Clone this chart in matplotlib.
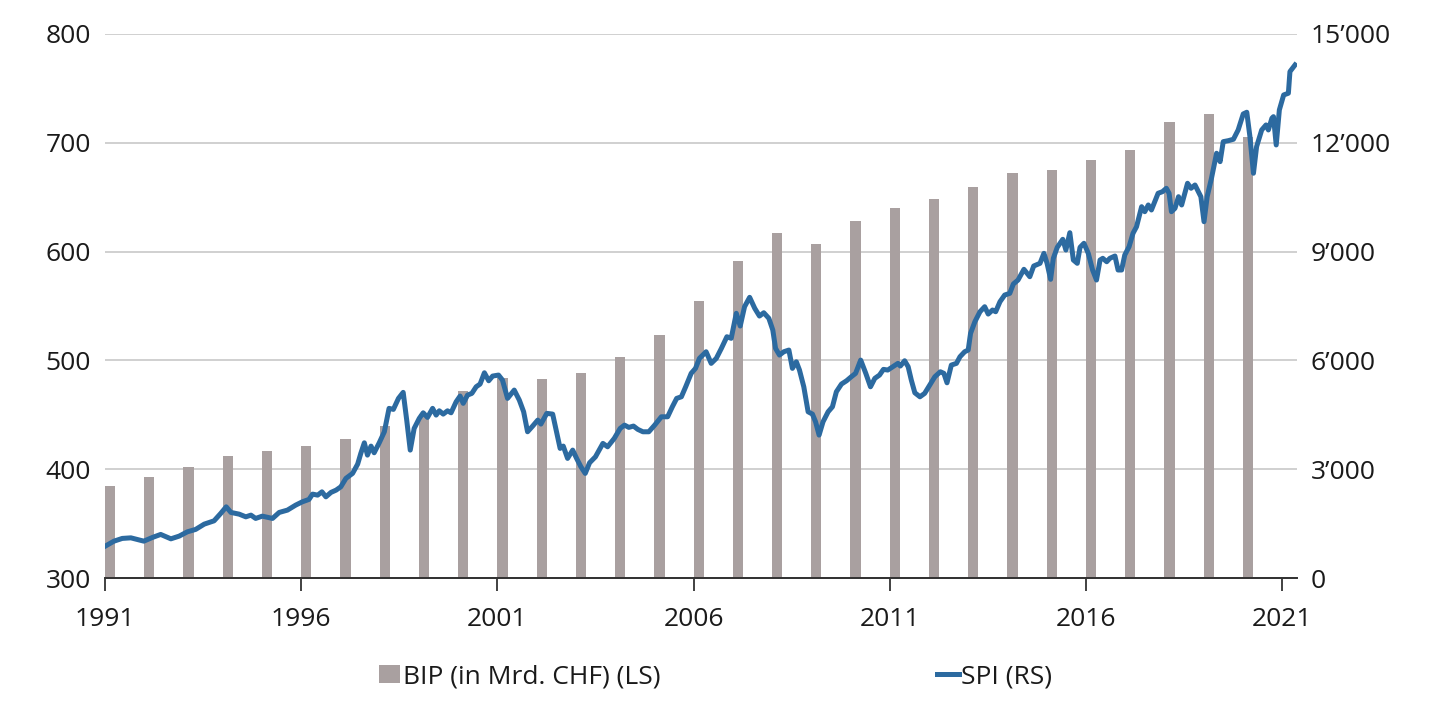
import matplotlib.pyplot as plt
from matplotlib.ticker import FuncFormatter

plt.rcParams['font.family'] = ['Open Sans', 'DejaVu Sans']

# BIP yearly (left axis, Mrd. CHF)
bip_years = list(range(1991, 2021))
bip = [385, 393, 402, 412, 417, 421, 428, 440, 451, 472,
       484, 483, 488, 503, 523, 555, 591, 617, 607, 628,
       640, 648, 659, 672, 675, 684, 693, 719, 726, 705]

# SPI (right axis)
spi_t = [1991.02, 1991.23, 1991.44, 1991.66, 1991.82, 1991.99, 1992.21, 1992.42, 1992.68, 1992.89,
         1993.10, 1993.31, 1993.53, 1993.78, 1993.95, 1994.09, 1994.21, 1994.42, 1994.59, 1994.72,
         1994.84, 1995.01, 1995.27, 1995.44, 1995.65, 1995.86, 1996.03, 1996.20,
         1996.29, 1996.42, 1996.53, 1996.63, 1996.76, 1996.89, 1997.01, 1997.14, 1997.31, 1997.44,
         1997.52, 1997.61, 1997.69, 1997.78, 1997.86, 1997.99, 1998.12, 1998.24, 1998.35, 1998.48,
         1998.60, 1998.69, 1998.78, 1998.88, 1999.01, 1999.11, 1999.22, 1999.35, 1999.44, 1999.52,
         1999.62, 1999.73, 1999.82, 1999.95, 2000.05, 2000.13, 2000.24, 2000.35, 2000.46, 2000.56,
         2000.67, 2000.78, 2000.88, 2001.03,
         2001.13, 2001.26, 2001.43, 2001.56, 2001.67, 2001.77, 2001.90, 2002.03, 2002.11, 2002.26,
         2002.41, 2002.50, 2002.60, 2002.68, 2002.79, 2002.92, 2003.02, 2003.13, 2003.24, 2003.35,
         2003.50, 2003.69, 2003.81, 2003.98, 2004.13, 2004.24, 2004.35, 2004.47, 2004.58, 2004.71,
         2004.86, 2005.01, 2005.18, 2005.34, 2005.46, 2005.57, 2005.69, 2005.80, 2005.94, 2006.05,
         2006.15,
         2006.32, 2006.45, 2006.58, 2006.71, 2006.85, 2006.96, 2007.09, 2007.19, 2007.30, 2007.43,
         2007.56, 2007.68, 2007.79, 2007.92, 2008.02, 2008.09, 2008.19, 2008.30, 2008.43, 2008.52,
         2008.62, 2008.70, 2008.81, 2008.92, 2009.03, 2009.11, 2009.20, 2009.30, 2009.43, 2009.54,
         2009.64, 2009.77, 2009.90, 2010.02, 2010.13, 2010.26, 2010.39, 2010.51, 2010.62, 2010.74,
         2010.84, 2010.95, 2011.08, 2011.21,
         2011.27, 2011.38, 2011.47, 2011.55, 2011.64, 2011.77, 2011.89, 2012.02, 2012.15, 2012.29,
         2012.38, 2012.46, 2012.57, 2012.70, 2012.79, 2012.91, 2013.00, 2013.06, 2013.17, 2013.30,
         2013.42, 2013.51, 2013.62, 2013.70, 2013.81, 2013.93, 2014.06, 2014.15, 2014.27, 2014.42,
         2014.57, 2014.67, 2014.83, 2014.93, 2015.01, 2015.10, 2015.17, 2015.27, 2015.41, 2015.49,
         2015.59, 2015.68, 2015.78, 2015.85, 2015.95, 2016.06, 2016.17, 2016.27, 2016.36,
         2016.43, 2016.53, 2016.61, 2016.74, 2016.82, 2016.91, 2016.99, 2017.10, 2017.20, 2017.29,
         2017.42, 2017.50, 2017.59, 2017.67, 2017.84, 2017.95, 2018.05, 2018.12, 2018.18, 2018.27,
         2018.36, 2018.44, 2018.59, 2018.68, 2018.78, 2018.93, 2019.01, 2019.09, 2019.20, 2019.33,
         2019.42, 2019.50, 2019.63, 2019.76, 2019.88, 2020.01, 2020.10, 2020.18, 2020.27, 2020.35,
         2020.48, 2020.59, 2020.65, 2020.74, 2020.78, 2020.85, 2020.93, 2021.04, 2021.16, 2021.20,
         2021.33]
spi = [890, 1020, 1095, 1111, 1067, 1020, 1122, 1205, 1084, 1158,
       1277, 1343, 1489, 1580, 1784, 1966, 1811, 1764, 1690, 1737,
       1646, 1709, 1646, 1811, 1875, 2013, 2104, 2170,
       2316, 2288, 2379, 2241, 2363, 2426, 2517, 2749, 2887, 3143,
       3438, 3730, 3391, 3639, 3455, 3730, 4034, 4679, 4651, 4954,
       5120, 4356, 3529, 4127, 4403, 4557, 4430, 4679, 4494, 4612,
       4521, 4612, 4557, 4861, 5018, 4817, 5045, 5092, 5274, 5349,
       5660, 5440, 5569, 5597,
       5459, 4954, 5183, 4907, 4585, 4034, 4191, 4356, 4246, 4541,
       4521, 4080, 3576, 3639, 3300, 3529, 3300, 3069, 2887, 3179,
       3344, 3714, 3620, 3852, 4127, 4218, 4155, 4191, 4100, 4034,
       4034, 4218, 4447, 4447, 4723, 4954, 4998, 5274, 5644, 5781,
       6057,
       6239, 5919, 6057, 6333, 6653, 6609, 7298, 6948, 7480, 7739,
       7436, 7223, 7314, 7160, 6837, 6333, 6148, 6239, 6286, 5781,
       5963, 5735, 5274, 4585, 4521, 4309, 3943, 4309, 4585, 4723,
       5136, 5349, 5440, 5550, 5644, 6010, 5644, 5274, 5506, 5597,
       5754, 5735, 5826, 5919,
       5845, 5991, 5826, 5459, 5109, 4998, 5092, 5321, 5550, 5688,
       5644, 5384, 5872, 5919, 6101, 6239, 6286, 6746, 7066, 7342,
       7480, 7278, 7389, 7342, 7618, 7802, 7849, 8106, 8216, 8511,
       8307, 8602, 8676, 8952, 8676, 8235, 8814, 9117, 9338, 9043,
       9520, 8767, 8676, 9117, 9228, 8952, 8492, 8216, 8767,
       8814, 8720, 8814, 8878, 8492, 8492, 8905, 9134, 9503, 9685,
       10237, 10099, 10284, 10146, 10606, 10650, 10744, 10606, 10099, 10193,
       10512, 10284, 10882, 10744, 10835, 10512, 9823, 10512, 11020, 11709,
       11478, 12029, 12056, 12095, 12351, 12793, 12839, 12167, 11158, 11891,
       12351, 12489, 12351, 12674, 12718, 11938, 12903, 13316, 13363, 13959,
       14143]

year_ticks = [1991, 1996, 2001, 2006, 2011, 2016, 2021]
left_ticks = [300, 400, 500, 600, 700, 800]
right_ticks = [0, 3000, 6000, 9000, 12000, 15000]

bar_color = '#a9a0a0'
line_color = '#2c6aa0'
text_color = '#1a1a1a'

fig = plt.figure(figsize=(14.4, 7.2), dpi=100)
ax = fig.add_axes([0.0729, 0.197, 0.8278, 0.756])

ax.bar(bip_years, [b - 300 for b in bip], bottom=300, width=0.26, align='edge',
       color=bar_color, label='BIP (in Mrd. CHF) (LS)', zorder=2)
ax.set_ylim(300, 800)
ax.set_yticks(left_ticks)
ax.set_xlim(1991, 2021.38)
ax.set_xticks(year_ticks)
ax.grid(axis='y', color='#c8c8c8', linewidth=1.2, zorder=0)
ax.set_axisbelow(True)

ax2 = ax.twinx()
ax2.plot(spi_t, spi, color=line_color, linewidth=3.6, label='SPI (RS)', zorder=3)
ax2.set_ylim(0, 15000)
ax2.set_yticks(right_ticks)
ax2.yaxis.set_major_formatter(FuncFormatter(lambda v, p: f'{int(v):,}'.replace(',', '\u2019')))

for a in (ax, ax2):
    for s in ('top', 'left', 'right'):
        a.spines[s].set_visible(False)
    a.spines['bottom'].set_color('#333333')
    a.spines['bottom'].set_linewidth(1.3)
    a.tick_params(axis='y', length=0, labelsize=19, colors=text_color, pad=10)

ax.tick_params(axis='x', length=9, width=1.3, color='#333333', labelsize=19,
               labelcolor=text_color, pad=12)

h1, l1 = ax.get_legend_handles_labels()
h2, l2 = ax2.get_legend_handles_labels()
fig.legend(h1 + h2, l1 + l2, loc='center', bbox_to_anchor=(0.497, 0.06), ncol=2,
           frameon=False, fontsize=19, handlelength=0.8, handletextpad=0.1,
           columnspacing=10.5, labelcolor=text_color)

fig.savefig('out.png', dpi=100)
